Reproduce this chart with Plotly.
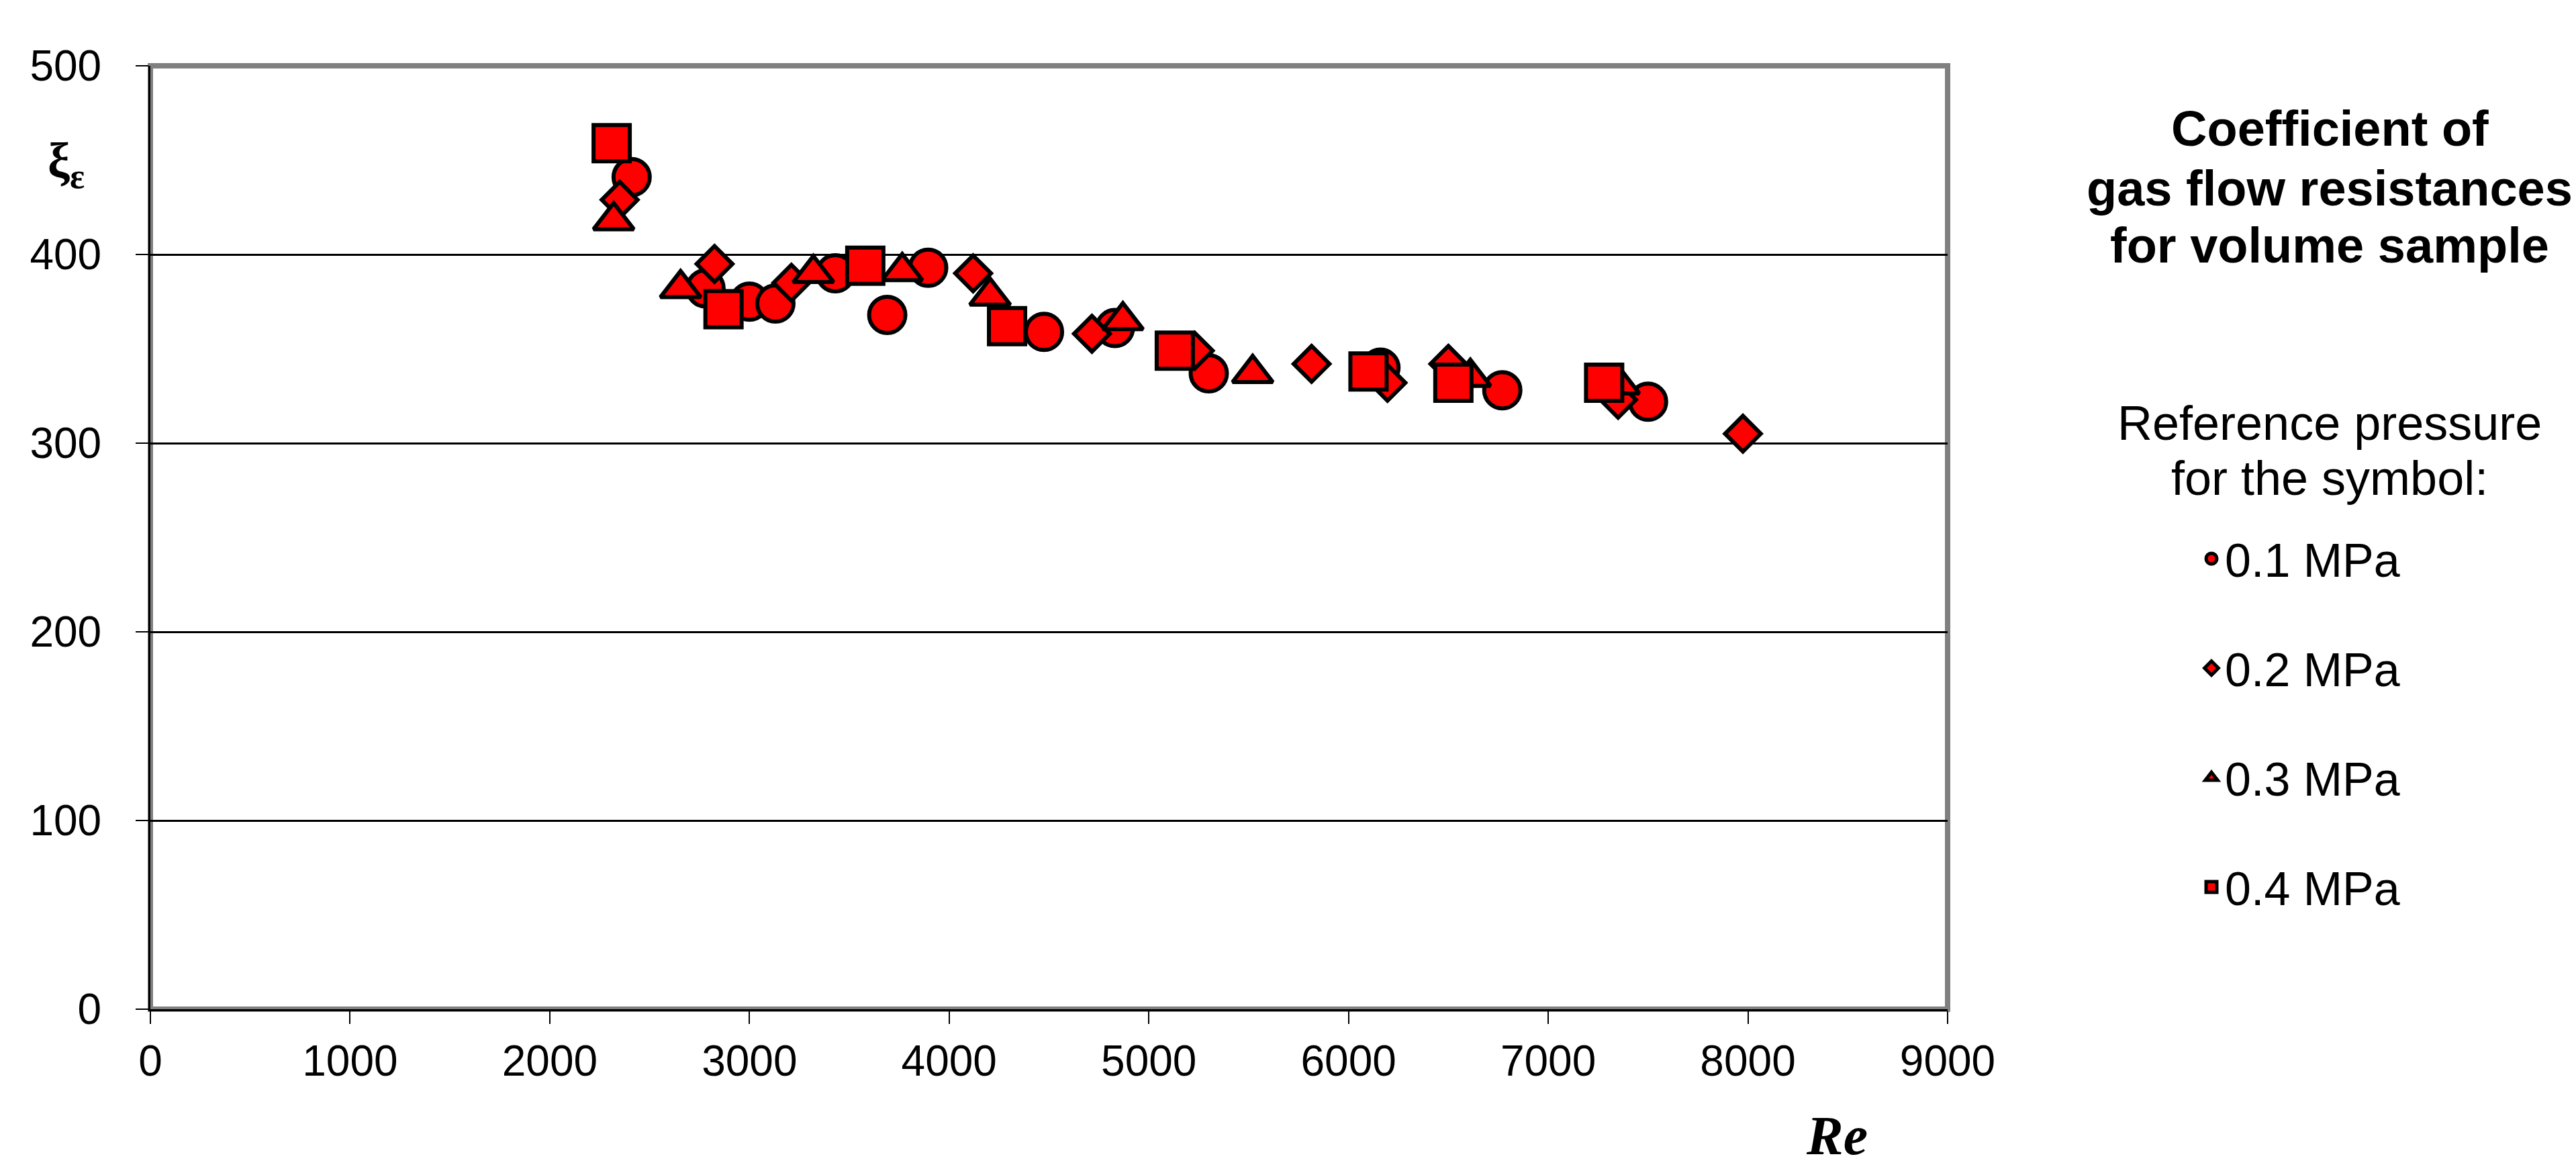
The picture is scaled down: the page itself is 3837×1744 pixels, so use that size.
import plotly.graph_objects as go

# ---- data (Re, xi) ----
re_01 = [2410, 2780, 3000, 3130, 3430, 3690, 3895, 4475, 4830, 5300, 6160, 6770, 7500]
xi_01 = [441, 382, 375, 374, 390, 368, 393, 359, 361, 337, 340, 328, 322]

re_02 = [2350, 2825, 3210, 4120, 4715, 5230, 5815, 6195, 6500, 7350, 7975]
xi_02 = [429, 395, 385, 390, 358, 349, 342, 332, 342, 323, 305]

re_03 = [2320, 2655, 3320, 3765, 4205, 4870, 5520, 6610, 7355]
xi_03 = [418, 382, 390, 391, 378, 365, 337, 335, 331]

re_04 = [2310, 2870, 3580, 4290, 5130, 6100, 6525, 7280]
xi_04 = [459, 371, 394, 362, 349, 338, 332, 332]

series_names = ["0.1 MPa", "0.2 MPa", "0.3 MPa", "0.4 MPa"]
x_ticks = [0, 1000, 2000, 3000, 4000, 5000, 6000, 7000, 8000, 9000]
y_ticks = [0, 100, 200, 300, 400, 500]

# ---- figure geometry ----
W, H = 3837, 1744
L, R, T, B = 216, 944, 90, 249
PW, PH = W - L - R, H - T - B


def px_x(px):
    return (px - L) / PW


def px_y(py):
    return (H - B - py) / PH


SANS = "Liberation Sans, Arial, sans-serif"
SERIF = "Liberation Serif, Times New Roman, serif"

fig = go.Figure()
styles = [
    ("circle", 54, 6),
    ("diamond", 41, 6),
    ("triangle-up", 52, 6),
    ("square", 54, 6),
]
data = [(re_01, xi_01), (re_02, xi_02), (re_03, xi_03), (re_04, xi_04)]
for i, ((xs, ys), (sym, size, lw)) in enumerate(zip(data, styles)):
    fig.add_trace(go.Scatter(
        x=xs, y=ys, mode="markers", name=series_names[i],
        legendgroup=f"g{i}",
        marker=dict(symbol=sym, size=size, color="#FF0000",
                    line=dict(color="black", width=lw)),
        cliponaxis=False,
    ))

fig.update_layout(
    width=W, height=H, autosize=False,
    margin=dict(l=L, r=R, t=T, b=B, pad=0),
    paper_bgcolor="white", plot_bgcolor="white",
    font=dict(family=SANS, color="black", size=64),
    showlegend=True,
    legend=dict(
        x=px_x(3266), y=px_y(772), xanchor="left", yanchor="top",
        font=dict(family=SANS, size=70, color="black"),
        bgcolor="rgba(0,0,0,0)", borderwidth=0,
        itemsizing="trace", tracegroupgap=69,
        traceorder="grouped",
    ),
)

fig.update_xaxes(
    range=[0, 9000], tickvals=x_ticks, ticktext=[str(v) for v in x_ticks],
    showgrid=False, zeroline=False,
    showline=True, linecolor="black", linewidth=3,
    ticks="outside", ticklen=19, tickwidth=2, tickcolor="black",
    tickfont=dict(family=SANS, size=64, color="black"),
    ticklabelstandoff=0,
)
fig.update_yaxes(
    range=[0, 500], tickvals=y_ticks, ticktext=[str(v) for v in y_ticks],
    showgrid=True, gridcolor="black", gridwidth=2.5, zeroline=False,
    showline=True, linecolor="black", linewidth=3,
    ticks="outside", ticklen=19, tickwidth=2, tickcolor="black",
    tickfont=dict(family=SANS, size=64, color="black"),
    ticklabelstandoff=38,
)

# grey plot frame
fig.add_shape(type="rect", xref="paper", yref="paper", x0=0, y0=0, x1=1, y1=1,
              line=dict(color="#808080", width=8), layer="between")

ann = []
# axis titles
ann.append(dict(text="<b>ξ<sub>ε</sub></b>", x=px_x(90), y=px_y(236),
                xref="paper", yref="paper", showarrow=False,
                xanchor="center", yanchor="middle",
                font=dict(family=SERIF, size=74, color="black")))
ann.append(dict(text="<b><i>Re</i></b>", x=px_x(2728), y=px_y(1683),
                xref="paper", yref="paper", showarrow=False,
                xanchor="center", yanchor="middle",
                font=dict(family=SERIF, size=82, color="black")))
# legend heading
title_lines = ["Coefficient of", "gas flow resistances", "for volume sample"]
title_y = [184, 272, 358]
for t, yy in zip(title_lines, title_y):
    ann.append(dict(text=f"<b>{t}</b>", x=px_x(3462), y=px_y(yy),
                    xref="paper", yref="paper", showarrow=False,
                    xanchor="center", yanchor="middle",
                    font=dict(family=SANS, size=74, color="black")))
sub_lines = ["Reference pressure", "for the symbol:"]
sub_y = [622, 704]
for t, yy in zip(sub_lines, sub_y):
    ann.append(dict(text=t, x=px_x(3462), y=px_y(yy),
                    xref="paper", yref="paper", showarrow=False,
                    xanchor="center", yanchor="middle",
                    font=dict(family=SANS, size=72, color="black")))
fig.update_layout(annotations=ann)

fig.write_html("out.html")
